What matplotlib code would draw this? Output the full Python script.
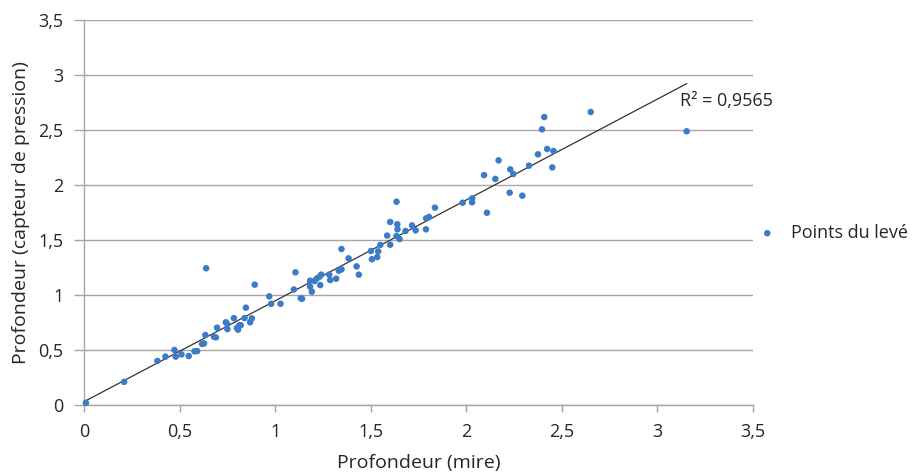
import matplotlib
matplotlib.use("Agg")
import matplotlib.pyplot as plt
import numpy as np

plt.rcParams['font.family'] = ['Open Sans', 'DejaVu Sans']

# Data (Profondeur mire vs capteur de pression)
mire = [0.01, 0.21, 0.384, 0.426, 0.473, 0.48, 0.51, 0.548, 0.578, 0.592,
        0.618, 0.628, 0.635, 0.639, 0.68, 0.69, 0.696, 0.742, 0.749, 0.75,
        0.784, 0.80, 0.806, 0.813, 0.82, 0.84, 0.847, 0.869, 0.878, 0.893,
        0.969, 0.979, 1.028, 1.098, 1.106, 1.134, 1.141, 1.183, 1.183, 1.192,
        1.206, 1.218, 1.232, 1.241, 1.236, 1.283, 1.288, 1.319, 1.333, 1.347,
        1.347, 1.384, 1.426, 1.438, 1.501, 1.506, 1.534, 1.539, 1.55, 1.586,
        1.602, 1.602, 1.635, 1.639, 1.64, 1.635, 1.651, 1.682, 1.716, 1.735,
        1.789, 1.79, 1.805, 1.836, 1.981, 2.031, 2.03, 2.108, 2.093, 2.152,
        2.169, 2.227, 2.23, 2.246, 2.293, 2.328, 2.375, 2.396, 2.408, 2.423,
        2.456, 2.45, 2.651, 3.153]
capteur = [0.02, 0.21, 0.40, 0.44, 0.50, 0.44, 0.46, 0.445, 0.488, 0.49,
           0.555, 0.56, 0.636, 1.243, 0.62, 0.615, 0.703, 0.752, 0.736, 0.69,
           0.79, 0.70, 0.685, 0.725, 0.725, 0.79, 0.885, 0.752, 0.788, 1.094,
           0.988, 0.92, 0.92, 1.05, 1.206, 0.97, 0.966, 1.13, 1.076, 1.03,
           1.127, 1.15, 1.166, 1.185, 1.09, 1.185, 1.136, 1.148, 1.221, 1.233,
           1.418, 1.333, 1.26, 1.185, 1.40, 1.325, 1.345, 1.397, 1.455, 1.54,
           1.457, 1.664, 1.848, 1.643, 1.597, 1.536, 1.509, 1.582, 1.633, 1.588,
           1.597, 1.697, 1.709, 1.794, 1.839, 1.879, 1.843, 1.748, 2.09, 2.055,
           2.224, 1.93, 2.142, 2.10, 1.903, 2.176, 2.279, 2.506, 2.618, 2.327,
           2.309, 2.16, 2.664, 2.488]

trend_slope = 0.917
trend_intercept = 0.03
r2_label = "R² = 0,9565"

x_ticks = [0, 0.5, 1, 1.5, 2, 2.5, 3, 3.5]
tick_labels = ["0", "0,5", "1", "1,5", "2", "2,5", "3", "3,5"]

fig = plt.figure(figsize=(9.16, 4.75), dpi=100)
ax = fig.add_axes([84/916, 1-405/475, (753-84)/916, (405-20)/475])

blue = '#3b7bc8'
grid = '#a6a6a6'
txt = '#262626'

ax.set_xlim(0, 3.5)
ax.set_ylim(0, 3.5)
ax.set_xticks(x_ticks)
ax.set_xticklabels(tick_labels)
ax.set_yticks(x_ticks)
ax.set_yticklabels(tick_labels)
ax.yaxis.grid(True, color=grid, linewidth=1.0)
ax.set_axisbelow(True)
for s in ['top', 'right']:
    ax.spines[s].set_visible(False)
for s in ['left', 'bottom']:
    ax.spines[s].set_color(grid)
    ax.spines[s].set_linewidth(1.0)
ax.tick_params(axis='x', colors=grid, length=5, width=1.0, labelsize=13,
               labelcolor=txt, pad=8)
ax.tick_params(axis='y', colors=grid, length=7, width=1.0, labelsize=13,
               labelcolor=txt, pad=8)

xs = np.array([0, max(mire)])
ax.plot(xs, trend_intercept + trend_slope * xs, color='#333333', linewidth=0.9, zorder=2)

ax.scatter(mire, capteur, s=22, color=blue, edgecolors='none', zorder=3,
           label='Points du levé', clip_on=False)

ax.text(3.12, 2.765, r2_label, fontsize=13, color=txt, va='center', ha='left')

ax.set_xlabel('Profondeur (mire)', fontsize=14, color=txt, labelpad=9)
ax.set_ylabel('Profondeur (capteur de pression)', fontsize=14, color=txt, labelpad=6)

leg = ax.legend(loc='center left', bbox_to_anchor=(0.997, 1 - (233-20)/385),
                frameon=False, fontsize=13, handletextpad=0.8, borderaxespad=0.0,
                markerscale=1.0, handlelength=1.0)
for t in leg.get_texts():
    t.set_color(txt)

fig.savefig('out.png', dpi=100)
